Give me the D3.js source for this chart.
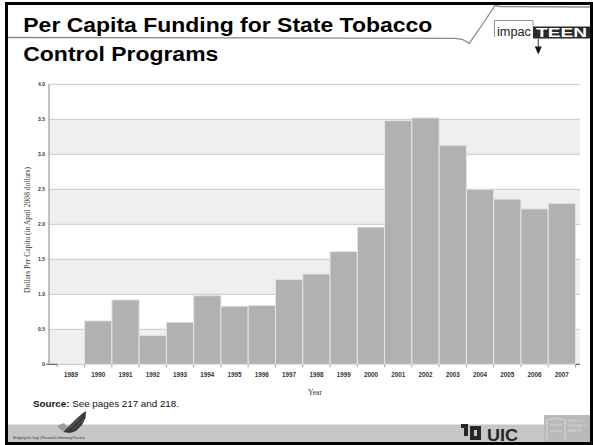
<!DOCTYPE html>
<html><head><meta charset="utf-8">
<script src="https://cdn.jsdelivr.net/npm/d3@7/dist/d3.min.js"></script>
<style>html,body{margin:0;padding:0;background:#fff;}svg{display:block;}</style>
</head><body>
<svg id="c" width="593" height="445"></svg>
<script>
const years = ["1989","1990","1991","1992","1993","1994","1995","1996","1997","1998","1999","2000","2001","2002","2003","2004","2005","2006","2007"];
const funding = [0, 0.62, 0.92, 0.41, 0.60, 0.98, 0.83, 0.84, 1.21, 1.29, 1.61, 1.96, 3.48, 3.52, 3.13, 2.50, 2.36, 2.22, 2.30];
const yTicks = [0, 0.5, 1.0, 1.5, 2.0, 2.5, 3.0, 3.5, 4.0];
const yTickLabels = ["0","0.5","1.0","1.5","2.0","2.5","3.0","3.5","4.0"];
const titleLines = ["Per Capita Funding for State Tobacco", "Control Programs"];
const yTitle = "Dollars Per Capita (in April 2008 dollars)";
const xTitle = "Year";

const svg = d3.select("#c");
const axisX = 49, plotRight = 580;
const x = d3.scaleBand().domain(years).range([57.3, 575.5]).padding(0);
const y = d3.scaleLinear().domain([0, 4]).range([364.3, 84.3]);

// background bands
const bandStarts = yTicks.slice(0, -1);
svg.append("g").selectAll("rect").data(bandStarts).join("rect")
  .attr("x", axisX).attr("width", plotRight - axisX)
  .attr("y", d => y(d + 0.5)).attr("height", d => y(d) - y(d + 0.5))
  .attr("fill", (d, i) => i % 2 === 0 ? "#efefef" : "#ffffff");

// gridlines
svg.append("g").selectAll("line").data(yTicks.slice(1)).join("line")
  .attr("x1", axisX).attr("x2", plotRight)
  .attr("y1", d => y(d)).attr("y2", d => y(d))
  .attr("stroke", "#d2d2d2").attr("stroke-width", 1.2);

// baseline
svg.append("line").attr("x1", axisX).attr("x2", plotRight).attr("y1", y(0)).attr("y2", y(0))
  .attr("stroke", "#cfcfcf").attr("stroke-width", 1.2);
svg.append("line").attr("x1", 46).attr("x2", x.range()[0]).attr("y1", y(0)).attr("y2", y(0))
  .attr("stroke", "#555").attr("stroke-width", 1);
svg.append("line").attr("x1", x.range()[1] - 1).attr("x2", plotRight).attr("y1", y(0)).attr("y2", y(0))
  .attr("stroke", "#555").attr("stroke-width", 1);

// bars
svg.append("g").selectAll("rect").data(years.map((yr, i) => ({yr, v: funding[i]})).filter(d => d.v > 0)).join("rect")
  .attr("x", d => x(d.yr)).attr("width", x.bandwidth())
  .attr("y", d => y(d.v)).attr("height", d => y(0) - y(d.v))
  .attr("fill", "#b1b1b1").attr("stroke", "#e4e4e4").attr("stroke-width", 1);

// y axis line
svg.append("line").attr("x1", axisX).attr("x2", axisX).attr("y1", y(4)).attr("y2", y(0))
  .attr("stroke", "#9a9a9a").attr("stroke-width", 1.2);

// x ticks at band edges
const edges = years.map(d => x(d)).concat([x.range()[1]]);
svg.append("g").selectAll("line").data(edges).join("line")
  .attr("x1", d => d).attr("x2", d => d).attr("y1", y(0)).attr("y2", y(0) + 3)
  .attr("stroke", "#8a8a8a").attr("stroke-width", 0.8);

// y tick labels
svg.append("g").selectAll("text").data(yTicks).join("text")
  .attr("x", 45).attr("y", d => y(d) + 1.8)
  .attr("text-anchor", "end")
  .attr("font-family", "Liberation Sans, Arial, sans-serif").attr("font-weight", "bold")
  .attr("font-size", 5).attr("fill", "#333")
  .text((d, i) => yTickLabels[i]);

// x tick labels
svg.append("g").selectAll("text").data(years).join("text")
  .attr("x", d => x(d) + x.bandwidth() / 2).attr("y", 376.5)
  .attr("text-anchor", "middle")
  .attr("font-family", "Liberation Sans, Arial, sans-serif").attr("font-weight", "bold")
  .attr("font-size", 6.3).attr("fill", "#333")
  .text(d => d);

// axis titles
svg.append("text").attr("transform", "translate(29.5,230) rotate(-90)")
  .attr("text-anchor", "middle").attr("font-family", "Liberation Serif, Times New Roman, serif")
  .attr("font-size", 7.6).attr("fill", "#333").text(yTitle);
svg.append("text").attr("x", 315).attr("y", 394.5)
  .attr("text-anchor", "middle").attr("font-family", "Liberation Serif, Times New Roman, serif")
  .attr("font-size", 7.6).attr("fill", "#333").text(xTitle);

// source
const src = svg.append("text").attr("x", 33).attr("y", 406.5)
  .attr("font-family", "Liberation Sans, Arial, sans-serif").attr("font-size", 9.8).attr("fill", "#111");
src.append("tspan").attr("font-weight", "bold").text("Source:");
src.append("tspan").text(" See pages 217 and 218.");

// title
svg.append("text").attr("x", 23.3).attr("y", 32.3)
  .attr("font-family", "Liberation Sans, Arial, sans-serif").attr("font-weight", "bold")
  .attr("font-size", 19.5).attr("fill", "#000")
  .attr("textLength", 409).attr("lengthAdjust", "spacingAndGlyphs").text(titleLines[0]);
svg.append("text").attr("x", 23.3).attr("y", 60.7)
  .attr("font-family", "Liberation Sans, Arial, sans-serif").attr("font-weight", "bold")
  .attr("font-size", 19.5).attr("fill", "#000")
  .attr("textLength", 195).attr("lengthAdjust", "spacingAndGlyphs").text(titleLines[1]);

// title underline / swoosh
svg.append("path").attr("d", "M8,37.5 L455,38.3 L462,39.3 L469.3,43.3 L482,25 L495,5.5 L500,6.5 L590,7")
  .attr("fill", "none").attr("stroke", "#8a8a8a").attr("stroke-width", 1.3);

// impacTEEN logo
const lg = svg.append("g");
lg.append("path").attr("d", "M494.5,37 L494.5,20.5 L533,20.5 L533,27")
  .attr("fill", "none").attr("stroke", "#888").attr("stroke-width", 0.9);
lg.append("text").attr("x", 497).attr("y", 35.8)
  .attr("font-family", "Liberation Sans, Arial, sans-serif").attr("font-size", 12).attr("fill", "#222")
  .attr("textLength", 34).attr("lengthAdjust", "spacingAndGlyphs").text("impac");
lg.append("rect").attr("x", 533).attr("y", 26.5).attr("width", 57).attr("height", 12).attr("fill", "#2a2a2a");
lg.append("text").attr("x", 536).attr("y", 37.4)
  .attr("font-family", "Liberation Sans, Arial, sans-serif").attr("font-weight", "bold").attr("font-size", 13).attr("fill", "#fff")
  .attr("textLength", 51).attr("lengthAdjust", "spacingAndGlyphs").text("TEEN");
lg.append("line").attr("x1", 538.3).attr("x2", 538.3).attr("y1", 38.5).attr("y2", 47).attr("stroke", "#222").attr("stroke-width", 0.9);
lg.append("path").attr("d", "M534.8,46.5 L541.8,46.5 L538.3,54.5 Z").attr("fill", "#111");

// bottom band
svg.append("rect").attr("x", 7).attr("y", 424.5).attr("width", 584).attr("height", 18).attr("fill", "#c6c6c6");

// left bottom logo (wing)
const wl = svg.append("g");
wl.append("path").attr("d", "M57,426 L64,423 L68,428 L62,431 Z").attr("fill", "#9c9c9c");
wl.append("path").attr("d", "M63,432 L70,425 L77,418 L83,413 L86,411 L85.5,418 L82,425 L76,431 L70,433 Z").attr("fill", "#3a3a3a");
wl.append("path").attr("d", "M70,428 L82,416 M73,430 L84,419 M67,430 L79,417").attr("stroke", "#777").attr("stroke-width", 0.5);
wl.append("text").attr("x", 13).attr("y", 438.5)
  .attr("font-family", "Liberation Sans, Arial, sans-serif").attr("font-size", 3.4).attr("fill", "#333")
  .attr("textLength", 72).attr("lengthAdjust", "spacingAndGlyphs").text("Bridging the Gap | Research Informing Practice");

// UIC logo
const ul = svg.append("g").attr("fill", "#262626");
ul.append("rect").attr("x", 461).attr("y", 424).attr("width", 7).attr("height", 4);
ul.append("rect").attr("x", 464).attr("y", 424).attr("width", 4).attr("height", 12);
ul.append("rect").attr("x", 470).attr("y", 426).attr("width", 4).attr("height", 14);
ul.append("rect").attr("x", 470).attr("y", 426).attr("width", 11).attr("height", 4);
ul.append("rect").attr("x", 470).attr("y", 436).attr("width", 11).attr("height", 4);
ul.append("rect").attr("x", 477).attr("y", 430).attr("width", 4).attr("height", 6);
svg.append("text").attr("x", 487).attr("y", 440.5)
  .attr("font-family", "Liberation Sans, Arial, sans-serif").attr("font-weight", "bold").attr("font-size", 17).attr("fill", "#262626")
  .attr("textLength", 31).attr("lengthAdjust", "spacingAndGlyphs").text("UIC");

// right picture box
const pb = svg.append("g");
pb.append("rect").attr("x", 544).attr("y", 415).attr("width", 46).attr("height", 27.5).attr("fill", "#b9b9b9");
pb.append("path").attr("d", "M547,441 L547,420 L556,418 L565,420 L565,441 M550,425 L562,425 M550,431 L562,431")
  .attr("fill", "none").attr("stroke", "#d6d6d6").attr("stroke-width", 1);
["SCHOOL", "OF PUBLIC", "HEALTH"].forEach((t, i) => {
  pb.append("text").attr("x", 568).attr("y", 422 + i * 5)
    .attr("font-family", "Liberation Sans, Arial, sans-serif").attr("font-size", 3.6).attr("fill", "#dedede").text(t);
});

// frame
svg.append("line").attr("x1", 5).attr("x2", 593).attr("y1", 3.5).attr("y2", 3.5).attr("stroke", "#000").attr("stroke-width", 3);
svg.append("line").attr("x1", 6.5).attr("x2", 6.5).attr("y1", 2).attr("y2", 445).attr("stroke", "#000").attr("stroke-width", 3);
svg.append("line").attr("x1", 591.5).attr("x2", 591.5).attr("y1", 2).attr("y2", 445).attr("stroke", "#000").attr("stroke-width", 3);
svg.append("line").attr("x1", 5).attr("x2", 593).attr("y1", 443.5).attr("y2", 443.5).attr("stroke", "#000").attr("stroke-width", 3);
</script>
</body></html>
